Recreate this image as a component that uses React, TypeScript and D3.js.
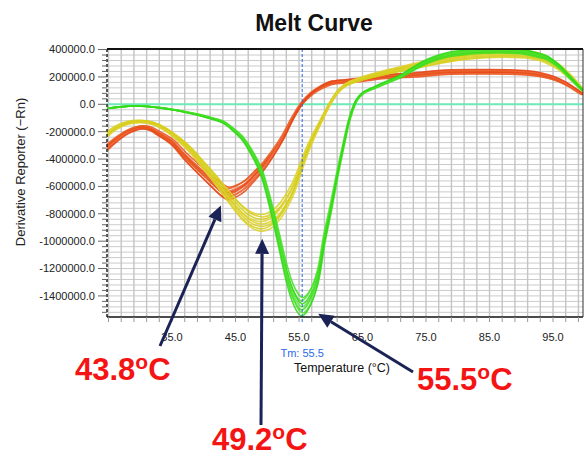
import React from "react";
import * as d3 from "d3";

// Mean derivative curves per sample group: [temperature °C, -dRn/dT]
const orangeCurve: [number, number][] = [
  [24.8, -310000], [26, -262000], [28, -200000], [30, -168000], [31.5, -176000],
  [33, -215000], [35, -275000], [37, -375000], [39, -465000], [41, -550000],
  [42.5, -612000], [43.8, -645000], [45, -628000], [46.5, -585000], [48, -515000],
  [49.3, -452000], [50.9, -352000], [52.5, -235000], [54, -100000], [55.5, 10000],
  [57, 80000], [58.5, 125000], [60, 155000], [62.5, 168000], [65, 180000],
  [68, 198000], [73, 212000], [78, 232000], [83, 235000], [88, 234000],
  [91, 227000], [93, 214000], [95, 190000], [97, 150000], [99, 92000], [99.7, 72000],
];

const yellowCurve: [number, number][] = [
  [24.8, -220000], [26, -176000], [28, -136000], [30, -125000], [32, -140000],
  [34, -185000], [36, -255000], [38, -340000], [40, -450000], [42, -560000],
  [43, -622000], [44, -680000], [45, -738000], [46, -790000], [47, -830000],
  [48, -856000], [49.2, -866000], [50.5, -846000], [52, -782000], [53, -710000],
  [54, -622000], [55, -502000], [56, -372000], [57, -262000], [58, -165000],
  [59, -72000], [60, 15000], [61, 88000], [62, 132000], [63, 158000],
  [65, 190000], [67, 215000], [69, 238000], [71, 258000], [73, 278000],
  [75, 298000], [77, 318000], [79, 336000], [81, 350000], [83, 360000],
  [86, 368000], [89, 368000], [91, 362000], [93, 345000], [95, 300000],
  [97, 232000], [99, 140000], [99.7, 100000],
];

const greenCurve: [number, number][] = [
  [24.8, -30000], [27, -18000], [29, -12000], [31, -15000], [33, -25000],
  [35, -38000], [37, -55000], [39, -75000], [41, -100000], [43, -130000],
  [44.5, -180000], [46, -245000], [47.5, -350000], [49, -490000], [50, -645000],
  [51, -830000], [52, -1030000], [53, -1230000], [54, -1380000], [55, -1465000],
  [55.5, -1480000], [56, -1465000], [57, -1390000], [58, -1250000], [59, -980000],
  [60, -760000], [61, -520000], [62, -300000], [63, -100000], [64, 25000],
  [65, 80000], [67, 125000], [69, 165000], [71, 205000], [73, 260000],
  [75, 310000], [77, 345000], [79, 368000], [81, 380000], [84, 390000],
  [87, 392000], [90, 386000], [92, 366000], [94, 340000], [96, 275000],
  [98, 180000], [99.7, 100000],
];

// Well-to-well replicate amplitude factors and Tm offsets
const orangeScales = [0.94, 0.96, 0.98, 1.0, 1.02, 1.04, 1.06, 1.08];
const orangeShifts = [0.2, -0.15, 0.1, 0, -0.1, 0.15, -0.2, 0.05];
const yellowScales = [0.93, 0.95, 0.97, 0.99, 1.01, 1.03, 1.05, 1.07];
const yellowShifts = [-0.1, 0.15, 0, -0.15, 0.1, 0.05, -0.05, 0.1];
const greenScales = [0.955, 0.97, 0.985, 1.0, 1.015, 1.03, 1.045];
const greenShifts = [0.1, -0.1, 0.05, 0, -0.05, 0.1, -0.05];

const orangeColors = ["#ec4d1c", "#e8601f", "#f06a3a", "#e44418"];
const yellowColors = ["#d8d41c", "#dccb22", "#cfd016", "#e0d032"];
const greenColors = ["#3fe01e", "#4fe22c", "#2fd818", "#58e43a"];

// Axis ticks
const yTickValues = [400000, 200000, 0, -200000, -400000, -600000, -800000, -1000000, -1200000, -1400000];
const xTickLabels = [35, 45, 55, 65, 75, 85, 95];
const tmValue = 55.5;

// Annotated melting peaks
const peakTemps = [43.8, 49.2, 55.5];

const W = 584;
const H = 458;
const L = 107, R = 583, T = 49, B = 317;

export default function App() {
  const x = d3.scaleLinear().domain([24.76, 99.72]).range([L, R]);
  const y = d3.scaleLinear().domain([-1554000, 404000]).range([B, T]);

  const line = d3
    .line<[number, number]>()
    .x((d) => x(d[0]))
    .y((d) => y(d[1]))
    .curve(d3.curveCatmullRom.alpha(0.5));

  const vGrid = d3.range(25, 100, 2);
  const hGrid = d3.range(-1520000, 400001, 40000);

  const groups = [
    { data: orangeCurve, scales: orangeScales, shifts: orangeShifts, colors: orangeColors },
    { data: yellowCurve, scales: yellowScales, shifts: yellowShifts, colors: yellowColors },
    { data: greenCurve, scales: greenScales, shifts: greenShifts, colors: greenColors },
  ];

  const valueAt = (data: [number, number][], t: number) => {
    const hit = data.find((d) => Math.abs(d[0] - t) < 1e-6);
    return hit ? hit[1] : 0;
  };

  const orangeMin = valueAt(orangeCurve, peakTemps[0]);
  const yellowMin = valueAt(yellowCurve, peakTemps[1]);
  const greenMin = valueAt(greenCurve, peakTemps[2]);

  const arrows = [
    { tip: [x(peakTemps[0]) - 7, y(orangeMin) + 13], tail: [160, 346] },
    { tip: [x(peakTemps[1]), y(yellowMin) + 16], tail: [261, 425] },
    { tip: [x(peakTemps[2]) + 16, y(greenMin) + 7], tail: [413, 372] },
  ];

  const labels = [
    { t: peakTemps[0], x: 75, y: 380 },
    { t: peakTemps[1], x: 212, y: 450 },
    { t: peakTemps[2], x: 417, y: 390 },
  ];

  const navy = "#1b2356";

  return (
    <svg
      width={W}
      height={H}
      style={{ position: "absolute", left: 0, top: 0, background: "#fff" }}
      fontFamily="Arial, 'Liberation Sans', sans-serif"
    >
      <defs>
        <clipPath id="plot-clip">
          <rect x={L} y={T} width={R - L} height={B - T} />
        </clipPath>
      </defs>

      <text x={314} y={31} textAnchor="middle" fontSize={23} fontWeight="bold" fill="#111">
        Melt Curve
      </text>

      {/* grid */}
      <g>
        {hGrid.map((v) => (
          <line key={"h" + v} x1={L} x2={R} y1={y(v)} y2={y(v)} stroke="#cbcbcb" strokeWidth={1} />
        ))}
        {vGrid.map((t) => (
          <line key={"v" + t} x1={x(t)} x2={x(t)} y1={T} y2={B} stroke="#c4c4c4" strokeWidth={1.4} />
        ))}
      </g>

      {/* threshold at zero */}
      <line x1={L} x2={R} y1={y(0)} y2={y(0)} stroke="#6ceab8" strokeWidth={2} />

      {/* replicate curves */}
      <g clipPath="url(#plot-clip)" fill="none">
        {groups.map((g, gi) =>
          g.scales.map((s, i) => (
            <path
              key={gi + "-" + i}
              d={line(g.data.map((d) => [d[0] + g.shifts[i], d[1] * s] as [number, number])) || ""}
              stroke={g.colors[i % g.colors.length]}
              strokeWidth={1.6}
              strokeOpacity={0.85}
            />
          ))
        )}
      </g>

      {/* Tm marker */}
      <line
        x1={x(tmValue)}
        x2={x(tmValue)}
        y1={T}
        y2={B + 5}
        stroke="#2a66e8"
        strokeWidth={1}
        strokeDasharray="3,2"
      />

      {/* frame */}
      <line x1={L} x2={R} y1={T} y2={T} stroke="#111" strokeWidth={2} />
      <line x1={L} x2={R} y1={B} y2={B} stroke="#111" strokeWidth={1.6} />
      <line x1={R} x2={R} y1={T} y2={B} stroke="#333" strokeWidth={1} />
      <line x1={L} x2={L} y1={T} y2={B} stroke="#111" strokeWidth={1.4} strokeDasharray="3,2" />

      {/* y ticks */}
      {hGrid.map((v) => {
        const major = yTickValues.includes(v);
        return (
          <line key={"yt" + v} x1={L - (major ? 9 : 5)} x2={L} y1={y(v)} y2={y(v)} stroke="#666" strokeWidth={1} />
        );
      })}
      {yTickValues.map((v) => (
        <text key={"yl" + v} x={95} y={y(v)} dy="0.35em" textAnchor="end" fontSize={11} fill="#222">
          {v.toFixed(1)}
        </text>
      ))}

      {/* x ticks */}
      {vGrid.map((t) => (
        <line key={"xt" + t} x1={x(t)} x2={x(t)} y1={B} y2={B + 5} stroke="#999" strokeWidth={1} />
      ))}
      {xTickLabels.map((t) => (
        <text key={"xl" + t} x={x(t)} y={341} textAnchor="middle" fontSize={11} fill="#222">
          {t.toFixed(1)}
        </text>
      ))}

      <text x={x(tmValue)} y={357} textAnchor="middle" fontSize={11} fill="#2a6ae8">
        Tm: {tmValue.toFixed(1)}
      </text>
      <text x={342} y={372} textAnchor="middle" fontSize={12.5} fill="#111">
        Temperature (°C)
      </text>
      <text
        transform="translate(25,172) rotate(-90)"
        textAnchor="middle"
        fontSize={13}
        fill="#222"
      >
        Derivative Reporter (−Rn)
      </text>

      {/* arrows */}
      {arrows.map((a, i) => {
        const [tx, ty] = a.tip;
        const [sx, sy] = a.tail;
        const ang = Math.atan2(ty - sy, tx - sx);
        const len = 15, half = 7;
        const bx = tx - len * Math.cos(ang);
        const by = ty - len * Math.sin(ang);
        const px = -Math.sin(ang), py = Math.cos(ang);
        const head = `M${tx},${ty}L${bx + half * px},${by + half * py}L${bx - half * px},${by - half * py}Z`;
        return (
          <g key={"ar" + i}>
            <line x1={sx} y1={sy} x2={bx} y2={by} stroke={navy} strokeWidth={3} />
            <path d={head} fill={navy} />
          </g>
        );
      })}

      {/* peak temperature labels */}
      {labels.map((lb, i) => (
        <text key={"lb" + i} x={lb.x} y={lb.y} fontSize={31} fontWeight="bold" fill="#f51414">
          {lb.t.toFixed(1)}
          <tspan fontSize={21} dy={-11}>o</tspan>
          <tspan fontSize={31} dy={11}>C</tspan>
        </text>
      ))}
    </svg>
  );
}
